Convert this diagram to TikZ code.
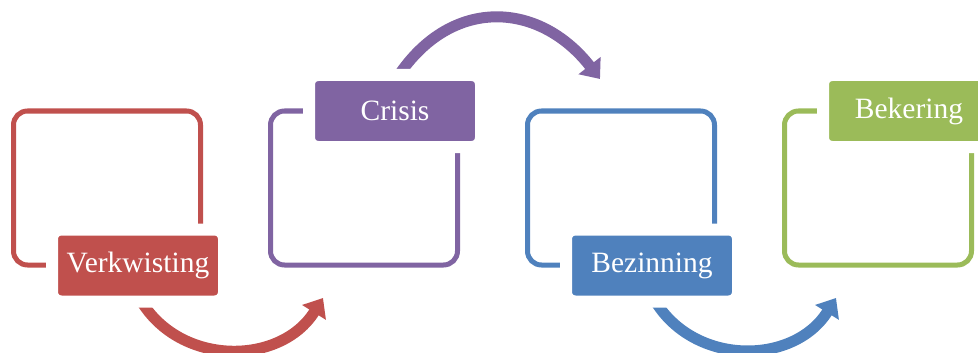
\documentclass[tikz,border=0pt]{standalone}
\usepackage{fontspec}
\setmainfont{Liberation Serif}
\usetikzlibrary{arrows.meta}

\definecolor{cred}{HTML}{C0504D}
\definecolor{cpurple}{HTML}{8064A2}
\definecolor{cblue}{HTML}{4F81BD}
\definecolor{cgreen}{HTML}{9BBB59}

\begin{document}
\begin{tikzpicture}[x=1pt, y=-1pt, node distance={257pt},
    box/.style = {draw=#1, rectangle, rounded corners=14pt, line width=5pt, minimum width=187pt, minimum height=154pt},
    tag/.style = {fill=#1, draw=white, rectangle, rounded corners=9pt, line width=12pt, minimum width=172pt, minimum height=72pt, text=white, font=\fontsize{29.5}{33}\selectfont},
    bend/.style = {draw=#1, line width=11pt, -{Triangle[length=17pt, width=27pt]}}]
    \useasboundingbox (0,0) rectangle (978,353);
    % frames
    \node[box=cred] (1) at (107,188) {};
    \node[box=cpurple] (2) [right of=1] {};
    \node[box=cblue] (3) [right of=2] {};
    \node[box=cgreen] (4) [right of=3] {};
    % arrow tips
    \coordinate (a1) at (323,298);
    \coordinate (a2) at (600,79);
    \coordinate (a3) at (836,298);
    % titles
    \coordinate (t1) at ([shift={(31,77.5)}]1);
    \coordinate (t2) at ([shift={(31,-77)}]2);
    \coordinate (t3) at ([shift={(31,77.5)}]3);
    \coordinate (t4) at ([shift={(31,-77)}]4);
    \draw[bend=cred] ([yshift=-30pt]t1) to[out=-62, in=-122, looseness=1.12] (a1);
    \draw[bend=cpurple] ([yshift=30pt]t2) to[out=58, in=128, looseness=1.25] (a2);
    \draw[bend=cblue] ([yshift=-30pt]t3) to[out=-62, in=-122, looseness=1.12] (a3);
    \node[tag=cred] (5) at (t1) {Verkwisting};
    \node[tag=cpurple] (6) at (t2) {Crisis};
    \node[tag=cblue] (7) at (t3) {Bezinning};
    \node[tag=cgreen] (8) at (t4) {Bekering};
\end{tikzpicture}
\end{document}
